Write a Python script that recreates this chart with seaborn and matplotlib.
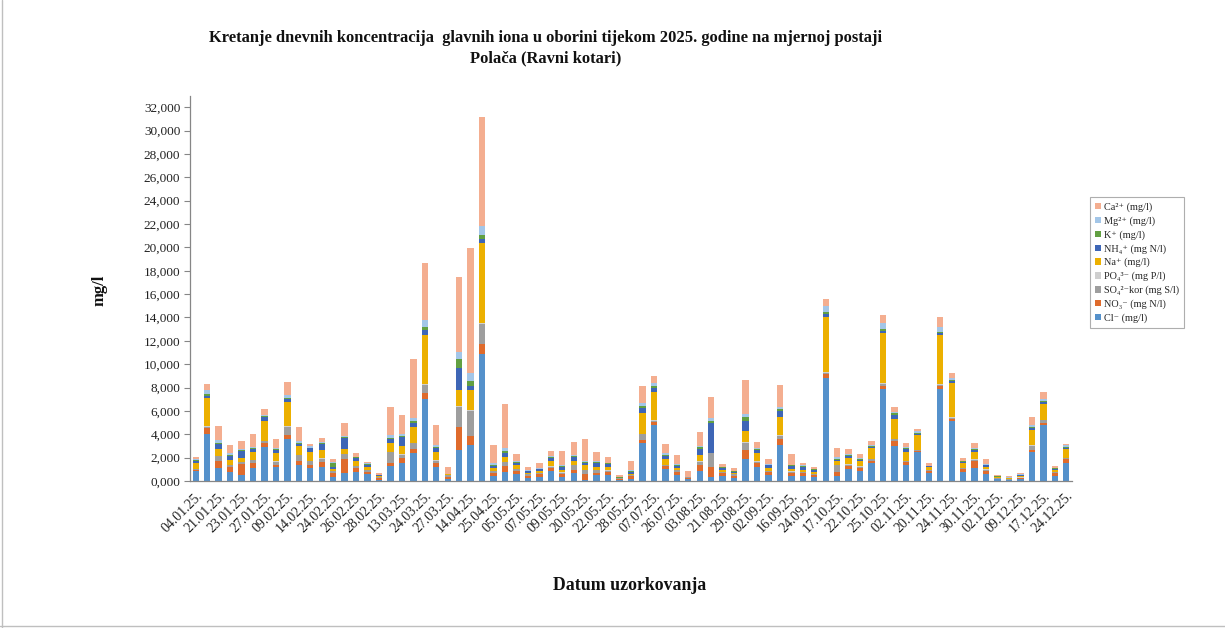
import numpy as np
import pandas as pd
import matplotlib
matplotlib.use('Agg')
import matplotlib.pyplot as plt
import matplotlib.patches as mpatches
import matplotlib.lines as mlines
import seaborn as sns

# Datumi uzorkovanja (svaki drugi je ispisan na osi)
datumi = [
    '04.01.25.', '15.01.25.', '21.01.25.', '22.01.25.', '23.01.25.', '25.01.25.', '27.01.25.', '02.02.25.',
    '09.02.25.', '11.02.25.', '14.02.25.', '19.02.25.', '24.02.25.', '25.02.25.', '26.02.25.', '27.02.25.',
    '28.02.25.', '05.03.25.', '13.03.25.', '18.03.25.', '24.03.25.', '25.03.25.', '27.03.25.', '03.04.25.',
    '14.04.25.', '18.04.25.', '25.04.25.', '30.04.25.', '05.05.25.', '06.05.25.', '07.05.25.', '08.05.25.',
    '09.05.25.', '15.05.25.', '20.05.25.', '21.05.25.', '22.05.25.', '25.05.25.', '28.05.25.', '14.06.25.',
    '07.07.25.', '18.07.25.', '26.07.25.', '30.07.25.', '03.08.25.', '12.08.25.', '21.08.25.', '25.08.25.',
    '29.08.25.', '31.08.25.', '02.09.25.', '09.09.25.', '16.09.25.', '20.09.25.', '24.09.25.', '06.10.25.',
    '17.10.25.', '20.10.25.', '22.10.25.', '24.10.25.', '25.10.25.', '29.10.25.', '02.11.25.', '12.11.25.',
    '20.11.25.', '22.11.25.', '24.11.25.', '27.11.25.', '30.11.25.', '01.12.25.', '02.12.25.', '05.12.25.',
    '09.12.25.', '13.12.25.', '17.12.25.', '20.12.25.', '24.12.25.',
]

# Koncentracije (mg/l) po ionu
cl = [0.86, 4.03, 1.14, 0.74, 0.51, 1.14, 2.95, 1.17, 3.60, 1.34, 1.14, 1.23, 0.34, 0.69, 0.74, 0.60,
      0.11, 1.28, 1.51, 2.37, 6.99, 1.17, 0.14, 2.65, 3.05, 10.87, 0.43, 0.77, 0.57, 0.26, 0.34, 0.86,
      0.34, 0.66, 0.09, 0.49, 0.49, 0.09, 0.20, 3.25, 4.77, 1.00, 0.49, 0.14, 0.83, 0.31, 0.43, 0.23,
      1.86, 1.23, 0.49, 3.05, 0.43, 0.43, 0.31, 8.85, 0.46, 1.00, 0.86, 1.51, 7.85, 3.00, 1.37, 2.51,
      0.71, 7.85, 5.17, 0.80, 1.14, 0.57, 0.14, 0.06, 0.14, 2.45, 4.79, 0.46, 1.57]
no3 = [0.06, 0.54, 0.57, 0.49, 0.98, 0.40, 0.28, 0.20, 0.38, 0.35, 0.26, 0.40, 0.35, 1.17, 0.37, 0.20,
       0.12, 0.26, 0.46, 0.34, 0.52, 0.34, 0.17, 1.94, 0.83, 0.86, 0.23, 0.51, 0.29, 0.17, 0.26, 0.28,
       0.23, 0.28, 0.54, 0.22, 0.28, 0.08, 0.23, 0.29, 0.31, 0.28, 0.28, 0.09, 0.57, 0.86, 0.23, 0.20,
       0.77, 0.34, 0.25, 0.52, 0.28, 0.23, 0.20, 0.31, 0.28, 0.26, 0.28, 0.23, 0.31, 0.45, 0.26, 0.06,
       0.12, 0.28, 0.14, 0.23, 0.60, 0.31, 0.06, 0.05, 0.09, 0.20, 0.20, 0.20, 0.29]
so4 = [0.08, 0.09, 0.41, 0.14, 0.11, 0.23, 0.17, 0.29, 0.68, 0.51, 0.31, 0.29, 0.17, 0.46, 0.17, 0.11,
       0.14, 0.94, 0.28, 0.52, 0.71, 0.23, 0.18, 1.75, 2.14, 1.71, 0.17, 0.35, 0.14, 0.14, 0.11, 0.09,
       0.14, 0.40, 0.28, 0.23, 0.11, 0.06, 0.11, 0.48, 0.09, 0.06, 0.14, 0.08, 0.26, 1.20, 0.11, 0.17,
       0.65, 0.09, 0.09, 0.31, 0.09, 0.11, 0.12, 0.12, 0.63, 0.14, 0.09, 0.12, 0.17, 0.12, 0.08, 0.06,
       0.08, 0.09, 0.11, 0.08, 0.09, 0.09, 0.06, 0.06, 0.06, 0.38, 0.23, 0.11, 0.08]
po4 = [0.02, 0.02, 0.03, 0.02, 0.02, 0.02, 0.03, 0.02, 0.03, 0.02, 0.02, 0.02, 0.02, 0.02, 0.02, 0.02,
       0.01, 0.03, 0.02, 0.03, 0.05, 0.02, 0.01, 0.04, 0.04, 0.05, 0.02, 0.02, 0.02, 0.01, 0.01, 0.02,
       0.02, 0.02, 0.02, 0.02, 0.02, 0.01, 0.01, 0.03, 0.03, 0.02, 0.02, 0.01, 0.02, 0.02, 0.02, 0.01,
       0.03, 0.02, 0.02, 0.03, 0.02, 0.02, 0.01, 0.05, 0.02, 0.02, 0.02, 0.02, 0.05, 0.03, 0.02, 0.02,
       0.01, 0.05, 0.03, 0.02, 0.02, 0.02, 0.01, 0.01, 0.01, 0.03, 0.03, 0.01, 0.02]
na = [0.49, 2.40, 0.62, 0.41, 0.38, 0.73, 1.72, 0.69, 2.09, 0.78, 0.73, 0.72, 0.15, 0.43, 0.38, 0.30,
      0.08, 0.77, 0.73, 1.39, 4.20, 0.75, 0.07, 1.44, 1.73, 6.86, 0.23, 0.38, 0.32, 0.13, 0.11, 0.46,
      0.18, 0.38, 0.44, 0.21, 0.27, 0.02, 0.08, 1.74, 2.45, 0.50, 0.21, 0.02, 0.52, 0.04, 0.15, 0.05,
      0.97, 0.69, 0.29, 1.60, 0.18, 0.18, 0.13, 4.74, 0.29, 0.55, 0.43, 0.92, 4.32, 1.71, 0.78, 1.26,
      0.25, 4.23, 2.91, 0.41, 0.60, 0.24, 0.04, 0.08, 0.16, 1.31, 1.31, 0.19, 0.78]
nh4 = [0.20, 0.23, 0.40, 0.37, 0.57, 0.25, 0.31, 0.29, 0.28, 0.20, 0.34, 0.51, 0.14, 0.92, 0.32, 0.17,
       0.05, 0.29, 0.80, 0.34, 0.46, 0.29, 0.02, 1.88, 0.37, 0.34, 0.20, 0.40, 0.23, 0.12, 0.17, 0.26,
       0.32, 0.34, 0.20, 0.40, 0.31, 0.03, 0.17, 0.49, 0.31, 0.28, 0.14, 0.02, 0.57, 2.51, 0.17, 0.11,
       0.86, 0.26, 0.23, 0.45, 0.28, 0.26, 0.17, 0.23, 0.12, 0.20, 0.12, 0.11, 0.17, 0.31, 0.26, 0.14,
       0.09, 0.14, 0.17, 0.09, 0.18, 0.11, 0.06, 0.02, 0.05, 0.17, 0.20, 0.09, 0.11]
k = [0.06, 0.17, 0.10, 0.06, 0.08, 0.05, 0.08, 0.05, 0.08, 0.06, 0.06, 0.08, 0.40, 0.06, 0.03, 0.04,
     0.03, 0.14, 0.08, 0.18, 0.23, 0.11, 0.01, 0.72, 0.43, 0.37, 0.09, 0.12, 0.05, 0.03, 0.03, 0.06,
     0.04, 0.07, 0.04, 0.06, 0.04, 0.01, 0.04, 0.14, 0.17, 0.11, 0.06, 0.01, 0.10, 0.23, 0.05, 0.06,
     0.37, 0.08, 0.04, 0.18, 0.05, 0.04, 0.05, 0.17, 0.10, 0.08, 0.07, 0.09, 0.14, 0.17, 0.06, 0.08,
     0.02, 0.15, 0.10, 0.04, 0.08, 0.05, 0.02, 0.01, 0.02, 0.09, 0.12, 0.02, 0.08]
mg = [0.09, 0.29, 0.23, 0.14, 0.09, 0.07, 0.12, 0.09, 0.24, 0.17, 0.11, 0.12, 0.09, 0.11, 0.05, 0.07,
      0.00, 0.23, 0.14, 0.20, 0.62, 0.17, 0.02, 0.60, 0.63, 0.77, 0.14, 0.25, 0.06, 0.04, 0.05, 0.08,
      0.07, 0.10, 0.07, 0.08, 0.05, 0.01, 0.07, 0.23, 0.23, 0.12, 0.12, 0.01, 0.13, 0.20, 0.07, 0.03,
      0.26, 0.12, 0.05, 0.22, 0.07, 0.07, 0.07, 0.51, 0.18, 0.09, 0.07, 0.11, 0.49, 0.12, 0.11, 0.12,
      0.03, 0.40, 0.16, 0.04, 0.12, 0.07, 0.02, 0.02, 0.03, 0.16, 0.17, 0.03, 0.12]
ca = [0.17, 0.57, 1.23, 0.72, 0.69, 1.14, 0.49, 0.78, 1.11, 1.17, 0.20, 0.35, 0.20, 1.09, 0.35, 0.12,
      0.12, 2.40, 1.63, 5.10, 4.86, 1.71, 0.61, 6.42, 10.76, 9.36, 1.54, 3.76, 0.60, 0.30, 0.43, 0.49,
      1.20, 1.12, 1.94, 0.80, 0.51, 0.19, 0.80, 1.48, 0.63, 0.80, 0.74, 0.48, 1.20, 1.85, 0.20, 0.28,
      2.85, 0.51, 0.40, 1.83, 0.88, 0.23, 0.14, 0.57, 0.75, 0.40, 0.34, 0.34, 0.71, 0.40, 0.29, 0.20,
      0.20, 0.82, 0.49, 0.23, 0.40, 0.45, 0.10, 0.15, 0.12, 0.66, 0.60, 0.15, 0.12]

ioni = ['Ca²⁺ (mg/l)', 'Mg²⁺ (mg/l)', 'K⁺ (mg/l)', 'NH₄⁺ (mg N/l)', 'Na⁺ (mg/l)',
        'PO₄³⁻ (mg P/l)', 'SO₄²⁻kor (mg S/l)', 'NO₃⁻ (mg N/l)', 'Cl⁻ (mg/l)']
vrijednosti = [ca, mg, k, nh4, na, po4, so4, no3, cl]
boje = ['#F4AE90', '#A3C6E8', '#62A042', '#3E66B6', '#ECB000',
        '#CFCFCF', '#9E9E9E', '#DF6B2C', '#5591CB']

# dugi format za seaborn
df = pd.DataFrame({
    'datum': np.tile(datumi, len(ioni)),
    'ion': np.repeat(ioni, len(datumi)),
    'mg_l': np.concatenate(vrijednosti),
})

sns.set_theme(style='white')
serif = ['Liberation Serif', 'DejaVu Serif']
plt.rcParams['font.family'] = serif

fig = plt.figure(figsize=(12.25, 6.28), dpi=100)
ax = fig.add_axes([190 / 1225, 1 - 481 / 628, (1072 - 190) / 1225, (481 - 95.6) / 628])

# zadnji nivo hue-a je na dnu stoga -> Cl na dnu
sns.histplot(data=df, x='datum', weights='mg_l', hue='ion', hue_order=ioni,
             multiple='stack', discrete=True, shrink=0.55, palette=boje,
             alpha=1, linewidth=0, legend=False, ax=ax)

ax.set_xlim(-0.5, len(datumi) - 0.5)
ax.set_ylim(0, 33)
yt = np.arange(0, 33, 2)
ax.set_yticks(yt)
ax.set_yticklabels([f'{v:.3f}'.replace('.', ',') for v in yt], fontsize=9.5, color='#222222')
ax.set_xticks(np.arange(0, len(datumi), 2))
ax.set_xticklabels(datumi[::2], rotation=45, ha='right', rotation_mode='anchor',
                   fontsize=10, color='#222222')
ax.set_xticks(np.arange(-0.5, len(datumi), 1), minor=True)
ax.tick_params(axis='x', which='major', length=0, pad=6)
ax.tick_params(axis='x', which='minor', length=4, width=0.8, color='#868686', direction='out')
ax.tick_params(axis='y', length=4, width=0.8, color='#868686', direction='out', left=True, pad=3)
ax.set_xlabel('')
ax.set_ylabel('')
for s in ['top', 'right']:
    ax.spines[s].set_visible(False)
for s in ['left', 'bottom']:
    ax.spines[s].set_color('#868686')
    ax.spines[s].set_linewidth(0.9)

fig.text(546 / 1225, 1 - 38 / 628,
         'Kretanje dnevnih koncentracija  glavnih iona u oborini tijekom 2025. godine na mjernoj postaji',
         ha='center', va='center', fontsize=11.9, fontweight='bold', color='#111111')
fig.text(546 / 1225, 1 - 58 / 628, 'Polača (Ravni kotari)',
         ha='center', va='center', fontsize=11.9, fontweight='bold', color='#111111')
fig.text(100 / 1225, 1 - 290 / 628, 'mg/l', rotation=90, ha='center', va='center',
         fontsize=12, fontweight='bold', color='#111111')
fig.text(630 / 1225, 1 - 586 / 628, 'Datum uzorkovanja', ha='center', va='center',
         fontsize=12.8, fontweight='bold', color='#111111')

handles = [mpatches.Patch(facecolor=c, edgecolor='none', label=l) for l, c in zip(ioni, boje)]
leg = fig.legend(handles=handles, loc='upper left', bbox_to_anchor=(1090 / 1225, 1 - 197 / 628),
                 bbox_transform=fig.transFigure, fontsize=7.4, frameon=True, fancybox=False,
                 handlelength=0.55, handleheight=0.55, handletextpad=0.3, labelspacing=0.42,
                 borderpad=0.5, borderaxespad=0)
leg.get_frame().set_edgecolor('#9a9a9a')
leg.get_frame().set_linewidth(0.8)

# okvir slike (lijevo i dolje)
fig.lines.append(mlines.Line2D([0.0015, 0.0015], [0, 1], transform=fig.transFigure,
                               color='#bfbfbf', linewidth=1))
fig.lines.append(mlines.Line2D([0, 1], [0.003, 0.003], transform=fig.transFigure,
                               color='#bfbfbf', linewidth=1))

fig.savefig('out.png', dpi=100)
plt.close()
